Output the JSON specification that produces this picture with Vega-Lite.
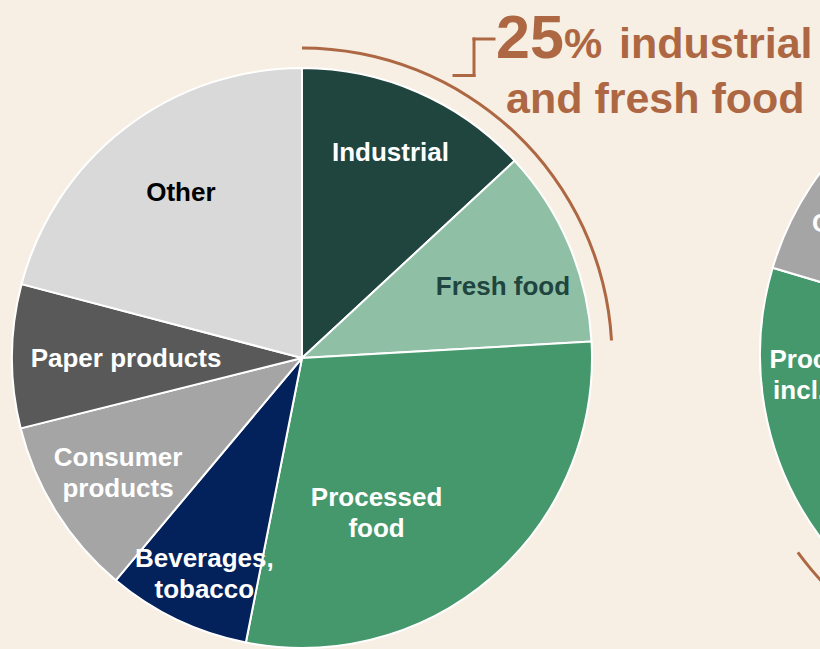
{
  "$schema": "https://vega.github.io/schema/vega-lite/v6.json",
  "width": 820,
  "height": 649,
  "autosize": {"type": "fit", "contains": "padding"},
  "padding": 0,
  "background": "#f7efe4",
  "config": {
    "view": {"stroke": null},
    "font": "Liberation Sans",
    "text": {"lineBreak": "\n", "font": "Liberation Sans", "fontWeight": "bold", "fontSize": 26, "lineHeight": 31, "baseline": "middle", "align": "center"}
  },
  "datasets": {
    "main": [
      {"cat": "Industrial", "share": 13.1, "rank": 1, "label": "Industrial"},
      {"cat": "Fresh food", "share": 11.0, "rank": 2, "label": "Fresh food"},
      {"cat": "Processed food", "share": 29.0, "rank": 3, "label": "Processed\nfood"},
      {"cat": "Beverages, tobacco", "share": 8.0, "rank": 4, "label": "Beverages,\ntobacco"},
      {"cat": "Consumer products", "share": 10.0, "rank": 5, "label": "Consumer\nproducts"},
      {"cat": "Paper products", "share": 8.0, "rank": 6, "label": "Paper products"},
      {"cat": "Other", "share": 20.9, "rank": 7, "label": "Other"}
    ],
    "second": [
      {"cat": "Industrial", "share": 40.0, "rank": 1, "label": "Industrial"},
      {"cat": "Fresh food", "share": 24.9, "rank": 2, "label": "Fresh food"},
      {"cat": "Processed food incl. beverages", "share": 14.7, "rank": 3, "label": "Processed food\nincl. beverages"},
      {"cat": "Consumer products", "share": 9.3, "rank": 4, "label": "Consumer\nproducts"},
      {"cat": "Other", "share": 11.1, "rank": 5, "label": "Other"}
    ],
    "notes": [
      {"note": "25"},
      {"note": "%"},
      {"note": "industrial"},
      {"note": "and fresh food"}
    ]
  },
  "layer": [
    {
      "data": {"name": "main"},
      "encoding": {
        "theta": {"field": "share", "type": "quantitative", "stack": true, "scale": {"domain": [0, 100]}},
        "order": {"field": "rank", "type": "quantitative"},
        "x": {"value": 302},
        "y": {"value": 358}
      },
      "layer": [
        {
          "mark": {"type": "arc", "outerRadius": 290, "stroke": "white", "strokeWidth": 2},
          "encoding": {
            "color": {
              "field": "cat", "type": "nominal", "legend": null,
              "scale": {
                "domain": ["Industrial", "Fresh food", "Processed food", "Processed food incl. beverages", "Beverages, tobacco", "Consumer products", "Paper products", "Other"],
                "range": ["#20453f", "#8fc0a6", "#44986b", "#44986b", "#03215b", "#a5a5a5", "#595959", "#d9d9d9"]
              }
            }
          }
        },
        {
          "mark": {"type": "text", "radius": 223.5, "dx": -1, "fill": "white"},
          "encoding": {"text": {"condition": {"test": "datum.cat === 'Industrial'", "field": "label", "type": "nominal"}, "value": ""}}
        },
        {
          "mark": {"type": "text", "radius": 214, "dx": 4, "dy": 13, "fill": "#20453f"},
          "encoding": {"text": {"condition": {"test": "datum.cat === 'Fresh food'", "field": "label", "type": "nominal"}, "value": ""}}
        },
        {
          "mark": {"type": "text", "radius": 173, "dx": -39, "dy": 10, "fill": "white"},
          "encoding": {"text": {"condition": {"test": "datum.cat === 'Processed food'", "field": "label", "type": "nominal"}, "value": ""}}
        },
        {
          "mark": {"type": "text", "radius": 238, "dx": 5, "dy": -13.5, "fill": "white"},
          "encoding": {"text": {"condition": {"test": "datum.cat === 'Beverages, tobacco'", "field": "label", "type": "nominal"}, "value": ""}}
        },
        {
          "mark": {"type": "text", "radius": 217, "dy": -15, "fill": "white"},
          "encoding": {"text": {"condition": {"test": "datum.cat === 'Consumer products'", "field": "label", "type": "nominal"}, "value": ""}}
        },
        {
          "mark": {"type": "text", "radius": 176, "dy": 2, "fill": "white"},
          "encoding": {"text": {"condition": {"test": "datum.cat === 'Paper products'", "field": "label", "type": "nominal"}, "value": ""}}
        },
        {
          "mark": {"type": "text", "radius": 205, "dx": 4, "dy": -3, "fill": "black"},
          "encoding": {"text": {"condition": {"test": "datum.cat === 'Other'", "field": "label", "type": "nominal"}, "value": ""}}
        }
      ]
    },
    {
      "data": {"name": "main"},
      "transform": [
        {"stack": "share", "groupby": [], "sort": [{"field": "rank", "order": "ascending"}], "as": ["t0", "t1"]},
        {"filter": "datum.cat === 'Industrial' || datum.cat === 'Fresh food'"},
        {"aggregate": [{"op": "min", "field": "t0", "as": "a0"}, {"op": "max", "field": "t1", "as": "a1"}]}
      ],
      "mark": {"type": "arc", "innerRadius": 308.5, "outerRadius": 311.5, "color": "#ad6843"},
      "encoding": {
        "theta": {"field": "a0", "type": "quantitative", "scale": {"domain": [0, 100]}},
        "theta2": {"field": "a1"},
        "x": {"value": 302},
        "y": {"value": 358}
      }
    },
    {
      "data": {"name": "second"},
      "encoding": {
        "theta": {"field": "share", "type": "quantitative", "stack": true, "scale": {"domain": [0, 100]}},
        "order": {"field": "rank", "type": "quantitative"},
        "x": {"value": 1066},
        "y": {"value": 355}
      },
      "layer": [
        {
          "mark": {"type": "arc", "outerRadius": 306, "stroke": "white", "strokeWidth": 2},
          "encoding": {
            "color": {
              "field": "cat", "type": "nominal", "legend": null,
              "scale": {
                "domain": ["Industrial", "Fresh food", "Processed food", "Processed food incl. beverages", "Beverages, tobacco", "Consumer products", "Paper products", "Other"],
                "range": ["#20453f", "#8fc0a6", "#44986b", "#44986b", "#03215b", "#a5a5a5", "#595959", "#d9d9d9"]
              }
            }
          }
        },
        {
          "mark": {"type": "text", "radius": 203, "dx": 1, "dy": -29.5, "fill": "white"},
          "encoding": {"text": {"condition": {"test": "datum.cat === 'Processed food incl. beverages'", "field": "label", "type": "nominal"}, "value": ""}}
        },
        {
          "mark": {"type": "text", "radius": 223.5, "dx": -3, "dy": -8.5, "fill": "white"},
          "encoding": {"text": {"condition": {"test": "datum.cat === 'Consumer products'", "field": "label", "type": "nominal"}, "value": ""}}
        }
      ]
    },
    {
      "data": {"name": "second"},
      "transform": [
        {"stack": "share", "groupby": [], "sort": [{"field": "rank", "order": "ascending"}], "as": ["t0", "t1"]},
        {"filter": "datum.cat === 'Industrial' || datum.cat === 'Fresh food'"},
        {"aggregate": [{"op": "min", "field": "t0", "as": "a0"}, {"op": "max", "field": "t1", "as": "a1"}]}
      ],
      "mark": {"type": "arc", "innerRadius": 331.5, "outerRadius": 334.5, "color": "#ad6843"},
      "encoding": {
        "theta": {"field": "a0", "type": "quantitative", "scale": {"domain": [0, 100]}},
        "theta2": {"field": "a1"},
        "x": {"value": 1066},
        "y": {"value": 355}
      }
    },
    {
      "data": {"name": "notes"},
      "transform": [{"filter": "datum.note === '25'"}],
      "layer": [
        {
          "mark": {"type": "text", "align": "left", "baseline": "alphabetic", "fontSize": 61, "fontWeight": "bold", "fill": "#ad6843"},
          "encoding": {"text": {"field": "note", "type": "nominal"}, "x": {"value": 496}, "y": {"value": 58}}
        },
        {
          "mark": {"type": "rule", "stroke": "#ad6843", "strokeWidth": 3, "strokeCap": "square"},
          "encoding": {"x": {"value": 454}, "x2": {"value": 474}, "y": {"value": 75.5}, "y2": {"value": 75.5}}
        },
        {
          "mark": {"type": "rule", "stroke": "#ad6843", "strokeWidth": 3, "strokeCap": "square"},
          "encoding": {"x": {"value": 474}, "x2": {"value": 474}, "y": {"value": 75.5}, "y2": {"value": 39}}
        },
        {
          "mark": {"type": "rule", "stroke": "#ad6843", "strokeWidth": 3, "strokeCap": "square"},
          "encoding": {"x": {"value": 474}, "x2": {"value": 494}, "y": {"value": 39}, "y2": {"value": 39}}
        }
      ]
    },
    {
      "data": {"name": "notes"},
      "transform": [{"filter": "datum.note === '%'"}],
      "mark": {"type": "text", "align": "left", "baseline": "alphabetic", "fontSize": 43, "fontWeight": "bold", "fill": "#ad6843"},
      "encoding": {"text": {"field": "note", "type": "nominal"}, "x": {"value": 564}, "y": {"value": 58}}
    },
    {
      "data": {"name": "notes"},
      "transform": [{"filter": "datum.note === 'industrial'"}],
      "mark": {"type": "text", "align": "left", "baseline": "alphabetic", "fontSize": 43, "fontWeight": "bold", "fill": "#ad6843"},
      "encoding": {"text": {"field": "note", "type": "nominal"}, "x": {"value": 619}, "y": {"value": 58}}
    },
    {
      "data": {"name": "notes"},
      "transform": [{"filter": "datum.note === 'and fresh food'"}],
      "mark": {"type": "text", "align": "left", "baseline": "alphabetic", "fontSize": 43, "fontWeight": "bold", "fill": "#ad6843"},
      "encoding": {"text": {"field": "note", "type": "nominal"}, "x": {"value": 506}, "y": {"value": 113}}
    }
  ]
}
